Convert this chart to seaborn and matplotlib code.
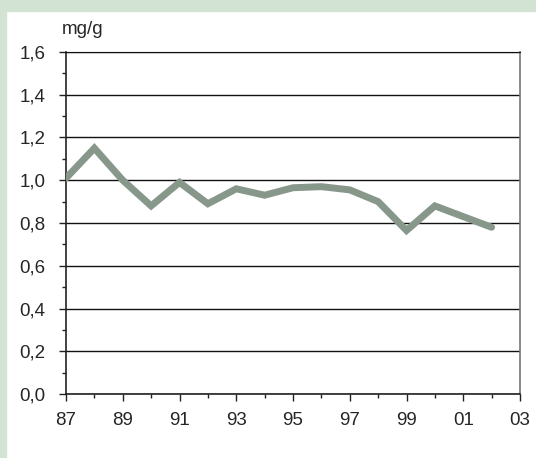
import numpy as np
import pandas as pd
import seaborn as sns
import matplotlib.pyplot as plt
from matplotlib.ticker import MultipleLocator, FuncFormatter

# values
years = [87, 88, 89, 90, 91, 92, 93, 94, 95, 96, 97, 98, 99, 100, 101, 102]
values = [1.01, 1.15, 1.00, 0.88, 0.99, 0.89, 0.96, 0.93, 0.965, 0.97, 0.955, 0.90, 0.765, 0.88, 0.83, 0.78]
x_ticks = [87, 89, 91, 93, 95, 97, 99, 101, 103]
x_labels = ["87", "89", "91", "93", "95", "97", "99", "01", "03"]

df = pd.DataFrame({"year": years, "value": values})

sns.set_style("white")
plt.rcParams["font.family"] = ["Liberation Sans", "DejaVu Sans"]

fig = plt.figure(figsize=(5.36, 4.58), dpi=100)
fig.patch.set_facecolor("white")

# green frame along top and left edges
fig.patches.append(plt.Rectangle((0, 1 - 11/458), 1, 11/458, transform=fig.transFigure,
                                 color="#d3e3d3", zorder=0))
fig.patches.append(plt.Rectangle((0, 0), 6/536, 1, transform=fig.transFigure,
                                 color="#d3e3d3", zorder=0))

ax = fig.add_axes([66/536, 1 - 394/458, (520 - 66)/536, (394 - 52)/458])
sns.lineplot(data=df, x="year", y="value", ax=ax, color="#87978a", linewidth=5,
             solid_joinstyle="miter", zorder=3)

ax.set_xlim(87, 103)
ax.set_ylim(0, 1.6)
ax.set_xticks(x_ticks)
ax.set_xticklabels(x_labels)
ax.xaxis.set_minor_locator(MultipleLocator(1))
ax.yaxis.set_major_locator(MultipleLocator(0.2))
ax.yaxis.set_minor_locator(MultipleLocator(0.1))
ax.yaxis.set_major_formatter(FuncFormatter(lambda v, p: f"{v:.1f}".replace(".", ",")))

ax.grid(axis="y", which="major", color="#111111", linewidth=1)
ax.set_axisbelow(True)
for side in ["left", "bottom"]:
    ax.spines[side].set_color("#222222")
    ax.spines[side].set_linewidth(1.2)
ax.spines["right"].set_color("#777777")
ax.spines["right"].set_linewidth(1.2)
ax.spines["top"].set_color("#111111")

ax.tick_params(axis="both", which="both", bottom=True, left=True, direction="out",
               color="#222222", width=1)
ax.tick_params(axis="both", which="major", length=5, labelsize=13.5)
ax.tick_params(axis="both", which="minor", length=3)
ax.tick_params(axis="y", which="major", pad=10)
ax.tick_params(axis="x", which="major", pad=8)
ax.set_xlabel("")
ax.set_ylabel("")

fig.text(62/536, 1 - 30/458, "mg/g", fontsize=13.5, ha="left", va="center")

fig.savefig("out.png", dpi=100)
